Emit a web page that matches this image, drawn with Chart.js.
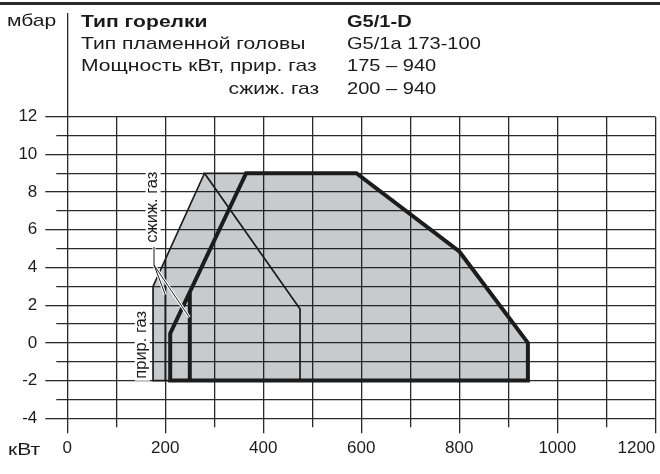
<!DOCTYPE html>
<html>
<head>
<meta charset="utf-8">
<script src="https://cdn.jsdelivr.net/npm/chart.js@4.4.0/dist/chart.umd.min.js"></script>
<style>
  body { margin: 0; background: #fff; }
  #wrap { position: relative; width: 660px; height: 474px; overflow: hidden;
          font-family: "Liberation Sans", Arial, sans-serif; color: #1a1a1a; }
  #wrap canvas { position: absolute; left: 0; top: 0; }
  .rule { position: absolute; left: 0; top: 2px; width: 660px; height: 2.5px; background: #2a2a2a; }
  .t { position: absolute; font-size: 17px; line-height: 17px; white-space: nowrap;
       transform: scaleX(1.24); transform-origin: left top; }
  .t.n { transform: scaleX(1.18); }
  .t.r { transform-origin: right top; }
  .t.b { font-weight: bold; }
</style>
</head>
<body>
<div id="wrap">
  <canvas id="range" width="660" height="474"></canvas>
  <div class="rule"></div>
  <span class="t" style="left:7.3px; top:12.3px">мбар</span>
  <span class="t b" style="left:80.7px; top:12.9px">Тип горелки</span>
  <span class="t" style="left:80.7px; top:35.1px">Тип пламенной головы</span>
  <span class="t" style="left:80.7px; top:57.4px">Мощность кВт, прир. газ</span>
  <span class="t r" style="right:341px; top:79.6px">сжиж. газ</span>
  <span class="t n b" style="left:346.7px; top:12.9px">G5/1-D</span>
  <span class="t n" style="left:346.7px; top:35.1px">G5/1a 173-100</span>
  <span class="t n" style="left:346.7px; top:57.4px">175 – 940</span>
  <span class="t n" style="left:346.7px; top:79.6px">200 – 940</span>
  <span class="t" style="left:8.3px; top:440.6px">кВт</span>
</div>
<script>
// axis ranges (kW across, mbar up)
const kwMin = 0, kwMax = 1200, kwStep = 100;
const mbarMin = -4, mbarMax = 12, mbarStep = 1;

// shaded working field (union of both gases)
const fieldKw   = [175, 175, 280, 590, 800, 940, 940];
const fieldMbar = [-2, 3, 9, 9, 4.85, 0, -2];

// natural gas curve (thick), incl. the step at 250 kW
const natKw   = [250, 250, 210, 210, 365, 590, 800, 940, 940, 250];
const natMbar = [2.7, -2, -2, 0.5, 9, 9, 4.85, 0, -2, -2];

// LPG curve (thin)
const lpgKw   = [365, 280, 475, 475, 175, 175, 280];
const lpgMbar = [9, 9, 1.8, -2, -2, 3, 9];
const lpgStepKw   = [200, 200];
const lpgStepMbar = [-2, 4.4];

// callout labels: text, centre [kW, mbar], leader points
const lpgNote = { text: 'сжиж. газ', at: [173, 7.2] };
const lpgLeaderKw   = [177, 177];
const lpgLeaderMbar = [5.1, 4.13];
const lpgLeaderEnds = [[200, 2.55], [249, 1.36]];
const natNote = { text: 'прир. газ', at: [151, -0.1] };

const ink = '#1c1c1c';
const gridInk = '#2a2a2a';
const gridW = 1.3;

const pts = (xs, ys) => xs.map((x, i) => ({ x: x, y: ys[i] }));
const align = (p, w) => Math.round(p - w / 2) + w / 2;

Chart.defaults.font.family = '"Liberation Sans", Arial, sans-serif';

// minor ticks, the axis stub above the grid and the callouts
const extras = {
  id: 'extras',
  afterDatasetsDraw(chart) {
    const { ctx, chartArea: a, scales: { x, y } } = chart;
    ctx.save();
    ctx.strokeStyle = gridInk;
    ctx.lineWidth = gridW;
    ctx.beginPath();
    x.ticks.forEach(t => {
      if (t.value % 200 === 0) return;
      const px = align(x.getPixelForValue(t.value), gridW);
      ctx.moveTo(px, a.bottom); ctx.lineTo(px, a.bottom + 9);
    });
    y.ticks.forEach(t => {
      if (t.value % 2 === 0) return;
      const py = align(y.getPixelForValue(t.value), gridW);
      ctx.moveTo(a.left - 11, py); ctx.lineTo(a.left, py);
    });
    const x0 = align(x.getPixelForValue(0), gridW);
    ctx.moveTo(x0, a.top); ctx.lineTo(x0, 13);
    ctx.stroke();

    const note = (n) => {
      ctx.save();
      ctx.translate(x.getPixelForValue(n.at[0]), y.getPixelForValue(n.at[1]));
      ctx.rotate(-Math.PI / 2);
      ctx.font = '16.5px "Liberation Sans", Arial, sans-serif';
      const w = ctx.measureText(n.text).width;
      ctx.fillStyle = '#fff';
      ctx.fillRect(-w / 2 - 2, -6.5, w + 4, 15);
      ctx.fillStyle = ink;
      ctx.textAlign = 'center';
      ctx.textBaseline = 'middle';
      ctx.fillText(n.text, 0, 0);
      ctx.restore();
    };
    note(lpgNote);
    note(natNote);

    // leader from the LPG note to the two minimum lines
    const lx = x.getPixelForValue(lpgLeaderKw[0]);
    const ly0 = y.getPixelForValue(lpgLeaderMbar[0]);
    const ly1 = y.getPixelForValue(lpgLeaderMbar[1]);
    const leader = () => {
      ctx.beginPath();
      ctx.moveTo(lx, ly0); ctx.lineTo(lx, ly1);
      lpgLeaderEnds.forEach(e => {
        ctx.moveTo(lx, ly1);
        ctx.lineTo(x.getPixelForValue(e[0]), y.getPixelForValue(e[1]));
      });
    };
    ctx.lineCap = 'butt';
    leader(); ctx.strokeStyle = '#fff'; ctx.lineWidth = 3; ctx.stroke();
    leader(); ctx.strokeStyle = ink; ctx.lineWidth = 1; ctx.stroke();
    ctx.restore();
  }
};

const line = (data, width, order) => ({
  data: data, showLine: true, pointRadius: 0, borderColor: ink, borderWidth: width,
  borderJoinStyle: 'miter', borderCapStyle: 'butt', fill: false, order: order
});

new Chart(document.getElementById('range'), {
  type: 'scatter',
  data: {
    datasets: [
      line(pts(natKw, natMbar), 4, 0),
      line(pts(lpgKw, lpgMbar), 1.7, 1),
      line(pts(lpgStepKw, lpgStepMbar), 1.7, 1),
      { data: pts(fieldKw, fieldMbar), showLine: true, pointRadius: 0, borderWidth: 0,
        fill: { value: -2 }, backgroundColor: 'rgba(5,14,23,0.22)', order: 2 }
    ]
  },
  options: {
    responsive: false,
    animation: false,
    devicePixelRatio: 1,
    layout: { padding: { top: 116.7, right: 4.7, left: 0, bottom: 0 } },
    plugins: { legend: { display: false }, tooltip: { enabled: false } },
    scales: {
      x: {
        type: 'linear', min: kwMin, max: kwMax,
        border: { display: false },
        grid: {
          color: gridInk, lineWidth: gridW, tickLength: 15,
          tickColor: c => (c.tick && c.tick.value % 200 === 0) ? gridInk : 'rgba(0,0,0,0)'
        },
        ticks: {
          stepSize: kwStep, autoSkip: false, maxRotation: 0, padding: 5, color: ink,
          font: { size: 17 },
          // last label sits left of its line so it stays on the page
          callback: v => v % 200 !== 0 ? '' : (v === kwMax ? v + '\u2007\u2007\u2007\u2007' : String(v))
        },
        afterFit(s) { s.height = 55.7; s.paddingLeft = 0; s.paddingRight = 0; }
      },
      y: {
        type: 'linear', min: mbarMin, max: mbarMax,
        border: { display: false },
        grid: {
          color: gridInk, lineWidth: gridW, tickLength: 22,
          tickColor: c => (c.tick && c.tick.value % 2 === 0) ? gridInk : 'rgba(0,0,0,0)'
        },
        ticks: {
          stepSize: mbarStep, autoSkip: false, padding: 8, color: ink,
          font: { size: 17 },
          callback: v => v % 2 === 0 ? String(v) : ''
        },
        afterFit(s) { s.width = 67.3; s.paddingTop = 0; s.paddingBottom = 0; }
      }
    }
  },
  plugins: [extras]
});
</script>
</body>
</html>
